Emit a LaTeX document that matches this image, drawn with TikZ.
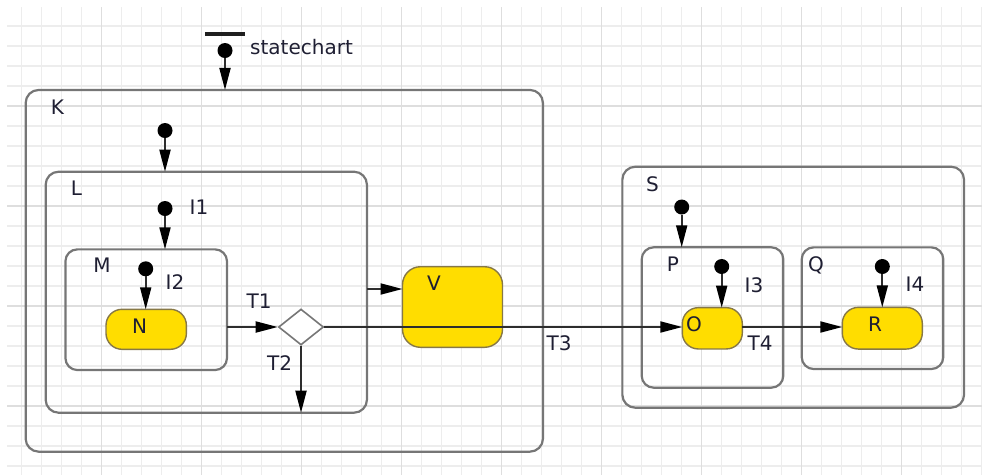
\documentclass[tikz,border=0pt]{standalone}
\usepackage{fontspec}
\setmainfont{DejaVu Sans}
\usetikzlibrary{arrows.meta,shapes.geometric,calc}
\definecolor{stfill}{RGB}{255,221,0}
\definecolor{stborder}{RGB}{135,120,70}
\definecolor{boxline}{RGB}{118,118,118}
\definecolor{trline}{RGB}{45,45,45}
\definecolor{gridminor}{RGB}{237,237,237}
\definecolor{gridmajor}{RGB}{222,222,222}
\definecolor{txt}{RGB}{30,30,50}
\begin{document}
\begin{tikzpicture}[x=1pt,y=-1pt,
  compbox/.style={draw=boxline, line width=2.2pt, rounded corners=13pt, inner sep=0pt, outer sep=0pt},
  stbox/.style={draw=stborder, fill=stfill, line width=1.4pt, rounded corners=16pt, inner sep=0pt, outer sep=0pt},
  lab/.style={inner sep=0pt, text height=14.6pt, text depth=0pt, font=\fontsize{20}{24}\selectfont, text=txt},
  initdot/.style={circle, fill=black, inner sep=0pt, outer sep=0pt, minimum size=15pt},
  tr/.style={draw=trline, line width=1.9pt, -{Triangle[length=22pt,width=11pt,color=black]}}]
\useasboundingbox (0,0) rectangle (982,475);
% grid
\foreach \i in {1,...,49} \draw[gridminor, line width=1.1pt] ({1.7+20*\i},7) -- ({1.7+20*\i},475);
\foreach \j in {1,...,23} \draw[gridminor, line width=1.1pt] (7,{6+20*\j}) -- (982,{6+20*\j});
\foreach \i in {5,10,...,45} \draw[gridmajor, line width=1.1pt] ({1.7+20*\i},7) -- ({1.7+20*\i},475);
\foreach \j in {5,10,...,20} \draw[gridmajor, line width=1.1pt] (7,{6+20*\j}) -- (982,{6+20*\j});

% composite states
\node[compbox, minimum width=517.3pt, minimum height=361.7pt] (K) at (284.3,270.8) {};
\node[compbox, minimum width=321.3pt, minimum height=241pt] (L) at (206.3,292.2) {};
\node[compbox, rounded corners=12pt, minimum width=161.6pt, minimum height=120.7pt] (M) at (146.2,309.7) {};
\node[compbox, minimum width=341.7pt, minimum height=241pt] (S) at (793.2,287.2) {};
\node[compbox, rounded corners=12pt, minimum width=141.6pt, minimum height=140.4pt] (P) at (712.5,317.5) {};
\node[compbox, rounded corners=12pt, minimum width=141.6pt, minimum height=121.7pt] (Q) at (872.5,308.2) {};

% simple states
\node[stbox, minimum width=80.4pt, minimum height=40pt] (N) at (146.2,329.3) {};
\node[stbox, rounded corners=18pt, minimum width=100pt, minimum height=80.6pt] (V) at (452.5,307) {};
\node[stbox, minimum width=60pt, minimum height=41.3pt] (O) at (712.3,328.3) {};
\node[stbox, minimum width=80pt, minimum height=41.7pt] (R) at (882.3,328.2) {};

% initial pseudo states
\node[fill=black!88, inner sep=0pt, minimum width=40pt, minimum height=4pt] (bar) at (224.5,34.2) {};
\node[initdot] (d0) at (225,50.5) {};
\node[initdot] (dK) at (165,130.5) {};
\node[initdot] (dL) at (165,208.5) {};
\node[initdot] (dM) at (145.7,268.8) {};
\node[initdot] (dS) at (681.7,207) {};
\node[initdot] (dP) at (721.7,266.5) {};
\node[initdot] (dQ) at (882.3,266.5) {};

% choice
\node[diamond, draw=boxline, fill=white, line width=1.6pt, inner sep=0pt, minimum width=45pt, minimum height=36pt] (D) at (301,327) {};
\coordinate (vin) at (0,289);

% transitions
\draw[tr] (d0) -- (K.north -| d0);
\draw[tr] (dK) -- (L.north -| dK);
\draw[tr] (dL) -- (M.north -| dL);
\draw[tr] (dM) -- (N.north -| dM);
\draw[tr] (dS) -- (P.north -| dS);
\draw[tr] (dP) -- (O.north -| dP);
\draw[tr] (dQ) -- (R.north -| dQ);
\draw[tr] (M.east |- D.west) -- (D.west);
\draw[tr] (D.south) -- (D.south |- L.south);
\draw[tr] (D.east) -- (D.east -| O.west);
\draw[tr] (D.east -| O.east) -- (D.east -| R.west);
\draw[tr] (L.east |- vin) -- (V.west |- vin);

% labels
\node[lab, anchor=west] (tsc) at (250,47.5) {statechart};
\node[lab] (tK) at (57.5,107.5) {K};
\node[lab] (tL) at (76.5,188.5) {L};
\node[lab] (tI1) at (199,207.5) {I1};
\node[lab] (tM) at (102,265) {M};
\node[lab] (tI2) at (175,281.7) {I2};
\node[lab] (tN) at (139.5,326) {N};
\node[lab] (tT1) at (259,301.5) {T1};
\node[lab] (tT2) at (279.5,363.3) {T2};
\node[lab] (tV) at (434,283) {V};
\node[lab] (tT3) at (559,343.3) {T3};
\node[lab] (tS) at (652.5,184) {S};
\node[lab] (tP) at (673,263.7) {P};
\node[lab] (tI3) at (754,285) {I3};
\node[lab] (tO) at (694,324) {O};
\node[lab] (tT4) at (760,343.3) {T4};
\node[lab] (tQ) at (816,264) {Q};
\node[lab] (tI4) at (915,284) {I4};
\node[lab] (tR) at (875,324) {R};
\end{tikzpicture}
\end{document}
